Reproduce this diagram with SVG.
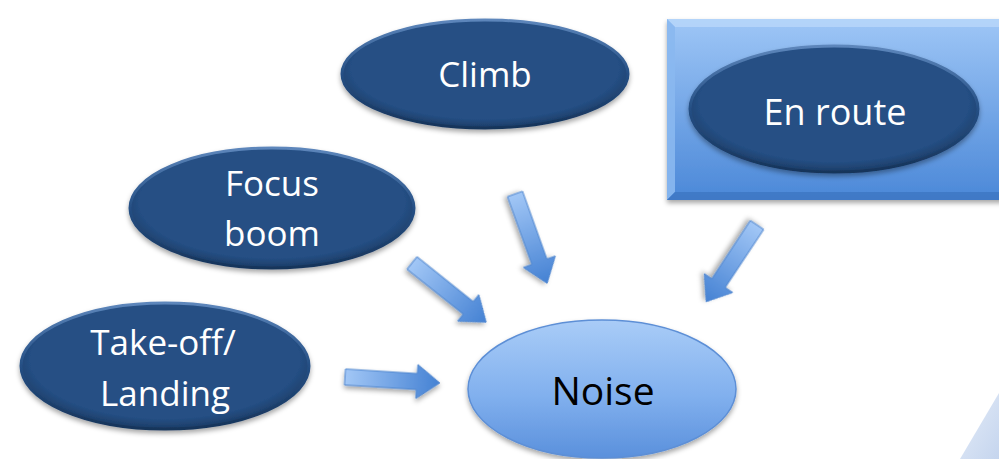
<svg xmlns="http://www.w3.org/2000/svg" width="999" height="459" viewBox="0 0 999 459">
<defs>
  <filter id="sh" x="-20%" y="-20%" width="140%" height="150%">
    <feDropShadow dx="0" dy="3" stdDeviation="2.5" flood-color="#000" flood-opacity="0.35"/>
  </filter>
  <radialGradient id="dark" cx="50%" cy="45%" r="55%">
    <stop offset="0.85" stop-color="#254f84"/>
    <stop offset="1" stop-color="#1c3c66"/>
  </radialGradient>
  <linearGradient id="darkRim" x1="0" y1="0" x2="0" y2="1">
    <stop offset="0" stop-color="#5d86bb"/>
    <stop offset="0.5" stop-color="#254f84"/>
    <stop offset="1" stop-color="#17345a"/>
  </linearGradient>
  <linearGradient id="light" x1="0" y1="0" x2="0" y2="1">
    <stop offset="0" stop-color="#a9ccf7"/>
    <stop offset="0.55" stop-color="#81b0ee"/>
    <stop offset="1" stop-color="#5a90dc"/>
  </linearGradient>
  <linearGradient id="rect" x1="0" y1="0" x2="0" y2="1">
    <stop offset="0" stop-color="#9ec6f6"/>
    <stop offset="1" stop-color="#4b88d8"/>
  </linearGradient>
  <linearGradient id="arr" x1="0" y1="0" x2="1" y2="0">
    <stop offset="0" stop-color="#a2c7f6"/>
    <stop offset="1" stop-color="#4481d3"/>
  </linearGradient>
  <linearGradient id="corner" x1="0" y1="0" x2="1" y2="1">
    <stop offset="0" stop-color="#e4ecf8"/>
    <stop offset="1" stop-color="#c5d5ee"/>
  </linearGradient>
  <path id="arrowShape" d="M0,-8 L72,-8 L72,-17 L95,0 L72,17 L72,8 L0,8 Z"/>
</defs>
<style>
  .dk { fill: url(#dark); stroke: url(#darkRim); stroke-width: 3; filter: url(#sh); }
  .lt { fill: url(#light); stroke: #5d8fd6; stroke-width: 1.5; filter: url(#sh); }
  .wt { fill: #ffffff; font-family: "Open Sans", "Liberation Sans", sans-serif; font-size: 35px; text-anchor: middle; }
  .bk { fill: #000000; font-family: "Open Sans", "Liberation Sans", sans-serif; font-size: 39px; text-anchor: middle; }
  .ar { fill: url(#arr); stroke: #4f86cf; stroke-width: 1; filter: url(#sh); }
</style>
<rect width="999" height="459" fill="#ffffff"/>
<polygon points="960,459 999,393 999,459" fill="url(#corner)"/>

<g id="enroute">
  <g filter="url(#sh)">
    <rect x="667" y="19" width="340" height="181" fill="url(#rect)"/>
    <polygon points="667,19 1007,19 999,27 675,27" fill="#b6d5fa" opacity="0.9"/>
    <polygon points="667,19 675,27 675,192 667,200" fill="#8ab8f0" opacity="0.9"/>
    <polygon points="667,200 675,192 999,192 1007,200" fill="#3f78c4" opacity="0.9"/>
  </g>
  <ellipse class="dk" cx="834" cy="109" rx="144" ry="63"/>
  <text class="wt" x="835" y="125" style="font-size:36px">En route</text>
</g>

<g id="climb">
  <ellipse class="dk" cx="485" cy="74" rx="143" ry="54"/>
  <text class="wt" x="485" y="87">Climb</text>
</g>

<g id="focusboom">
  <ellipse class="dk" cx="272" cy="208" rx="142" ry="60"/>
  <text class="wt" x="272" y="196">Focus</text>
  <text class="wt" x="272" y="246">boom</text>
</g>

<g id="takeoff">
  <ellipse class="dk" cx="165" cy="366" rx="144" ry="63"/>
  <text class="wt" x="163" y="355">Take-off/</text>
  <text class="wt" x="165" y="406">Landing</text>
</g>

<g id="noise">
  <ellipse class="lt" cx="602" cy="389" rx="134" ry="69"/>
  <text class="bk" x="603" y="405">Noise</text>
</g>

<g id="connectors">
  <use href="#arrowShape" class="ar" transform="translate(345,377) rotate(3.6)"/>
  <use href="#arrowShape" class="ar" transform="translate(412,263) rotate(38.6)"/>
  <use href="#arrowShape" class="ar" transform="translate(515,194) rotate(70.2)"/>
  <use href="#arrowShape" class="ar" transform="translate(757,225) rotate(123.5) scale(0.97,1)"/>
</g>
</svg>
